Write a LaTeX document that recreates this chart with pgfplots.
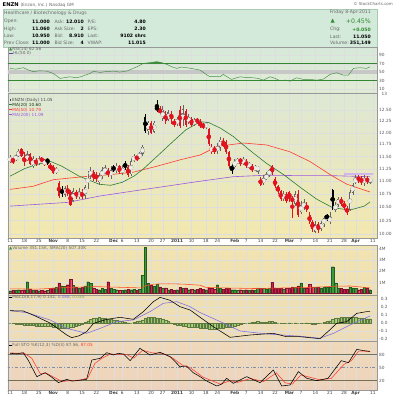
\documentclass[border=0pt]{standalone}
\usepackage{pgfplots}
\pgfplotsset{compat=1.18}
\usepackage{pgfplotstable}
\usepackage{fontspec}
\setmainfont{DejaVu Sans}
\newcommand\fs[1]{\fontsize{#1}{#1}\selectfont}
\definecolor{cred}{HTML}{E0141E}
\definecolor{ma20}{HTML}{2E7D32}
\definecolor{ma50}{HTML}{FF3B30}
\definecolor{ma200}{HTML}{9B59E0}
\definecolor{vgreen}{HTML}{3A9A3A}
\definecolor{vred}{HTML}{D21E4E}
\definecolor{histg}{HTML}{9CCB6E}
\definecolor{sigc}{HTML}{7E6BE0}
\definecolor{rsig}{HTML}{3E8E3E}
\definecolor{hdr}{HTML}{D3E9DA}
\definecolor{hdrb}{HTML}{A8CBB2}
\definecolor{lbl}{HTML}{666666}
\definecolor{upg}{HTML}{2E8B2E}
\definecolor{bg1}{HTML}{D6E9D8}
\definecolor{bg2}{HTML}{E2ECD6}
\definecolor{bg3}{HTML}{DDE8D4}
\definecolor{bg4}{HTML}{F3E8AE}
\definecolor{bg5}{HTML}{F2E4B0}
\definecolor{bg6}{HTML}{EFE0B4}
\definecolor{bg7}{HTML}{EEDCB6}
\definecolor{bg8}{HTML}{EFD9BA}
\definecolor{bg9}{HTML}{EDD3BD}
\definecolor{hollowin}{HTML}{EDEDE6}

\pgfplotstableread{
i o h l c t v m
0 11.40 11.52 11.36 11.48 0 0.25 0.000
1 11.45 11.47 11.35 11.40 1 0.30 -0.005
2 11.42 11.56 11.40 11.52 0 0.30 -0.010
3 11.50 11.66 11.48 11.62 0 0.35 -0.010
4 11.66 11.68 11.48 11.50 1 0.30 -0.015
5 11.45 11.60 11.30 11.40 1 0.35 -0.020
6 11.42 11.62 11.40 11.53 0 1.07 -0.025
7 11.55 11.58 11.33 11.35 1 0.40 -0.030
8 11.30 11.50 11.26 11.45 0 0.30 -0.030
9 11.42 11.47 11.30 11.36 1 0.30 -0.035
10 11.37 11.50 11.33 11.44 0 0.25 -0.035
11 11.45 11.48 11.38 11.42 1 0.30 -0.035
12 11.35 11.45 11.30 11.40 3 0.25 -0.040
13 11.43 11.45 11.33 11.40 2 0.30 -0.040
14 11.33 11.36 11.22 11.25 1 0.45 -0.040
15 11.30 11.33 11.15 11.17 1 0.50 -0.045
16 11.18 11.28 11.15 11.24 0 0.55 -0.050
17 10.97 11.00 10.68 10.72 1 0.95 -0.060
18 10.82 10.90 10.70 10.78 2 0.70 -0.065
19 10.74 10.90 10.70 10.86 0 0.65 -0.065
20 10.85 10.92 10.72 10.76 1 0.80 -0.060
21 10.78 10.82 10.52 10.55 1 1.28 -0.055
22 10.62 10.86 10.60 10.80 0 0.75 -0.045
23 10.78 10.82 10.65 10.72 1 0.60 -0.035
24 10.70 10.86 10.66 10.78 0 0.50 -0.020
25 10.78 10.84 10.66 10.70 1 0.55 -0.010
26 10.72 10.92 10.65 10.88 0 0.70 0.010
27 10.88 11.20 10.84 11.15 0 1.07 0.030
28 11.12 11.28 11.05 11.20 0 0.90 0.050
29 11.18 11.22 11.00 11.05 1 0.50 0.060
30 11.13 11.18 10.98 11.05 1 0.40 0.065
31 10.98 11.17 10.93 11.12 0 0.35 0.070
32 11.10 11.28 11.05 11.22 0 0.45 0.065
33 11.18 11.32 11.15 11.25 0 0.40 0.060
34 11.22 11.26 11.08 11.12 1 1.07 0.055
35 11.10 11.30 11.05 11.22 0 0.45 0.050
36 11.28 11.33 11.18 11.23 2 0.40 0.040
37 11.22 11.36 11.16 11.30 0 0.35 0.035
38 11.30 11.33 11.15 11.18 1 0.30 0.030
39 11.18 11.32 11.12 11.25 0 0.30 0.020
40 11.36 11.40 11.22 11.28 2 0.35 0.010
41 11.28 11.32 11.08 11.12 1 0.40 0.005
42 11.14 11.46 11.10 11.40 0 0.35 0.000
43 11.42 11.55 11.38 11.50 0 0.40 0.010
44 11.50 11.53 11.40 11.45 1 0.30 0.020
45 11.47 11.60 11.44 11.56 0 0.40 0.030
46 11.55 11.73 11.50 11.70 0 1.67 0.040
47 12.35 12.40 12.00 12.03 2 4.20 0.060
48 12.03 12.26 11.95 12.22 0 0.90 0.070
49 12.22 12.25 11.97 12.00 1 0.75 0.075
50 12.02 12.26 11.99 12.22 0 0.70 0.070
51 12.57 12.72 12.45 12.50 2 0.85 0.065
52 12.53 12.60 12.38 12.43 1 0.60 0.060
53 12.30 12.60 12.25 12.50 0 0.45 0.050
54 12.42 12.48 12.20 12.25 1 0.50 0.035
55 12.28 12.50 12.25 12.45 0 0.35 0.020
56 12.40 12.48 12.20 12.33 1 0.40 0.005
57 12.25 12.30 12.12 12.18 1 0.30 -0.010
58 12.20 12.35 12.15 12.28 0 0.35 -0.020
59 12.50 12.58 12.10 12.14 1 0.55 -0.030
60 12.18 12.62 12.15 12.52 0 0.45 -0.035
61 12.48 12.52 12.12 12.17 1 0.50 -0.040
62 12.24 12.40 12.20 12.33 0 0.35 -0.045
63 12.30 12.35 12.12 12.17 1 0.40 -0.050
64 12.18 12.32 12.15 12.28 0 0.35 -0.050
65 12.28 12.32 12.20 12.24 1 0.40 -0.055
66 12.22 12.30 12.10 12.15 1 0.45 -0.060
67 12.18 12.22 12.08 12.12 1 0.40 -0.065
68 12.12 12.24 12.08 12.20 0 0.35 -0.065
69 12.08 12.10 11.72 11.75 1 0.50 -0.070
70 11.60 11.75 11.55 11.70 3 0.45 -0.070
71 11.68 11.72 11.55 11.60 1 0.40 -0.070
72 11.62 11.78 11.55 11.70 0 0.80 -0.065
73 11.68 11.90 11.62 11.85 0 0.45 -0.065
74 11.80 11.88 11.70 11.72 1 0.40 -0.060
75 11.80 11.84 11.55 11.60 1 0.45 -0.055
76 11.60 11.62 11.27 11.30 1 0.45 -0.050
77 11.28 11.35 11.15 11.25 2 0.35 -0.045
78 11.28 11.45 11.25 11.42 0 0.35 -0.035
79 11.38 11.47 11.35 11.42 0 0.30 -0.025
80 11.43 11.47 11.30 11.40 1 0.35 -0.015
81 11.36 11.49 11.33 11.44 0 0.30 -0.005
82 11.40 11.45 11.27 11.30 1 0.35 0.000
83 11.30 11.38 11.24 11.34 0 0.30 0.005
84 11.30 11.34 11.18 11.22 1 0.35 0.010
85 11.24 11.32 11.20 11.28 0 0.30 0.015
86 11.24 11.30 11.15 11.27 0 0.50 0.020
87 11.05 11.08 10.90 10.93 1 0.45 0.015
88 10.96 11.12 10.93 11.06 0 0.45 0.010
89 11.05 11.18 11.02 11.12 0 0.40 0.015
90 11.12 11.25 11.08 11.22 0 0.45 0.020
91 11.30 11.32 11.12 11.18 1 1.00 0.020
92 11.05 11.08 10.86 10.90 1 0.50 0.010
93 10.90 10.92 10.76 10.80 1 0.45 0.000
94 10.80 10.82 10.62 10.66 1 0.45 -0.005
95 10.66 10.80 10.62 10.75 0 0.40 -0.005
96 10.75 10.78 10.58 10.62 1 0.45 0.000
97 10.78 10.80 10.60 10.68 1 0.50 0.005
98 10.68 10.72 10.30 10.60 1 0.60 0.000
99 10.56 10.80 10.52 10.75 0 0.55 0.005
100 10.76 10.82 10.32 10.35 1 0.70 0.000
101 10.40 10.62 10.38 10.55 0 0.95 -0.005
102 10.50 10.65 10.45 10.58 0 0.50 0.000
103 10.55 10.60 10.40 10.45 1 0.45 0.005
104 10.35 10.40 10.18 10.22 1 0.85 -0.005
105 10.22 10.26 10.05 10.10 1 0.60 -0.010
106 10.05 10.24 10.02 10.18 0 0.55 -0.010
107 10.18 10.22 10.02 10.08 1 0.60 -0.005
108 10.10 10.24 10.06 10.20 0 0.50 0.000
109 10.18 10.34 10.14 10.30 0 0.55 0.010
110 10.34 10.38 10.25 10.30 2 0.60 0.020
111 10.22 10.40 10.18 10.32 0 0.60 0.030
112 10.82 10.84 10.45 10.48 2 2.43 0.050
113 10.45 10.60 10.40 10.55 0 0.95 0.060
114 10.55 10.70 10.50 10.65 0 0.50 0.065
115 10.66 10.70 10.52 10.56 1 0.45 0.070
116 10.58 10.62 10.45 10.48 1 0.40 0.075
117 10.48 10.52 10.36 10.40 1 0.40 0.075
118 10.45 10.82 10.42 10.78 0 0.55 0.075
119 10.78 10.96 10.74 10.92 0 0.50 0.070
120 10.98 11.12 10.95 11.06 0 0.45 0.070
121 11.08 11.12 10.96 11.02 1 0.35 0.065
122 11.06 11.10 10.92 10.98 1 0.40 0.060
123 10.98 11.12 10.90 11.04 0 0.55 0.060
124 11.05 11.10 10.95 11.00 1 0.45 0.055
125 11.00 11.06 10.95 11.05 0 0.35 0.054
}\candles

\pgfplotsset{
 panel/.style={
  scale only axis, width=369pt, anchor=north west,
  xmin=-0.7, xmax=127.4,
  axis line style={draw=black!40, line width=0.35pt},
  xtick={0,5,10,15,20,25,30,36,39,44,49,53,58,63,68,72,78,82,87,92,97,101,106,111,116,120,126},
  xticklabels={},
  xmajorgrids, ymajorgrids,
  major grid style={draw=black!13, line width=0.3pt},
  tick style={draw=none},
  yticklabel pos=right,
  /pgf/number format/assume math mode=true,
  yticklabel style={font=\fs{4.3}, text=black!65, anchor=west, xshift=1.5pt, inner sep=0.5pt},
  xticklabel style={font=\fs{4.3}, text=black!75, inner sep=0.8pt},
 },
 xlabs/.style={xticklabels={11,18,25,\textbf{Nov},8,15,22,\textbf{Dec},6,13,20,27,\textbf{2011},10,18,24,\textbf{Feb},7,14,22,\textbf{Mar},7,14,21,28,\textbf{Apr},11}},
 ebar/.style 2 args={only marks, mark=none, color=#1, error bars/y dir=both, error bars/y explicit, error bars/error mark=none, error bars/error bar style={line width=#2, draw=#1}},
}
% wick / body of candles of type #1 (others sent above the axis, where they are clipped)
\newcommand\wick[2]{\addplot[ebar={#2}{0.45pt}] table[x=i, y expr={\thisrow{t}==#1 ? (\thisrow{h}+\thisrow{l})/2 : 40}, y error expr={(\thisrow{h}-\thisrow{l})/2}] {\candles};}
\newcommand\body[2]{\addplot[ebar={#2}{2.1pt}] table[x=i, y expr={\thisrow{t}==#1 ? (\thisrow{o}+\thisrow{c})/2 : 40}, y error expr={max(abs(\thisrow{c}-\thisrow{o})/2,0.006)}] {\candles};}
\newcommand\inner[1]{\addplot[ebar={hollowin}{0.75pt}] table[x=i, y expr={\thisrow{t}==#1 ? (\thisrow{o}+\thisrow{c})/2 : 40}, y error expr={max(abs(\thisrow{c}-\thisrow{o})/2-0.012,0)}] {\candles};}

\begin{document}
\begin{tikzpicture}
\path[use as bounding box, fill=white] (0pt,0pt) rectangle (400pt,-400pt);
% ---------- header ----------
\node[anchor=west, inner sep=0] at (2.5pt,-4.6pt) {\fs{5.2}\bfseries ENZN\ {\mdseries\fs{4.3}\color{lbl}(Enzon, Inc.) Nasdaq GM}};
\node[anchor=east, inner sep=0, text=lbl] at (393pt,-4.2pt) {\fs{4}© StockCharts.com};
\fill[hdr] (3pt,-9pt) rectangle (377pt,-47pt);
\draw[hdrb, line width=0.4pt] (3pt,-9pt) rectangle (377pt,-47pt);
\begin{scope}[every node/.style={inner sep=0, font=\fs{4.6}}]
\node[anchor=west, text=lbl] at (4pt,-13.4pt) {Healthcare / Biotechnology \& Drugs};
\node[anchor=west, text=lbl] at (4pt,-21.7pt) {Open:};
\node[anchor=west, text=lbl] at (4pt,-29pt) {High:};
\node[anchor=west, text=lbl] at (4pt,-36pt) {Low:};
\node[anchor=west, text=lbl] at (4pt,-42.8pt) {Prev Close:};
\node[anchor=east] at (50pt,-21.7pt) {\bfseries 11.000};
\node[anchor=east] at (50pt,-29pt) {\bfseries 11.060};
\node[anchor=east] at (50pt,-36pt) {\bfseries 10.950};
\node[anchor=east] at (50pt,-42.8pt) {\bfseries 11.000};
\node[anchor=west, text=lbl] at (54.3pt,-21.7pt) {Ask:};
\node[anchor=west, text=lbl] at (54.3pt,-29pt) {Ask Size:};
\node[anchor=west, text=lbl] at (54.3pt,-36pt) {Bid:};
\node[anchor=west, text=lbl] at (54.3pt,-42.8pt) {Bid Size:};
\node[anchor=east] at (84pt,-21.7pt) {\bfseries 12.010};
\node[anchor=east] at (84pt,-29pt) {\bfseries 2};
\node[anchor=east] at (84pt,-36pt) {\bfseries 8.910};
\node[anchor=east] at (84pt,-42.8pt) {\bfseries 4};
\node[anchor=west, text=lbl] at (87.5pt,-21.7pt) {P/E:};
\node[anchor=west, text=lbl] at (87.5pt,-29pt) {EPS:};
\node[anchor=west, text=lbl] at (87.5pt,-36pt) {Last:};
\node[anchor=west, text=lbl] at (87.5pt,-42.8pt) {VWAP:};
\node[anchor=east] at (146pt,-21.7pt) {\bfseries 4.80};
\node[anchor=east] at (146pt,-29pt) {\bfseries 2.30};
\node[anchor=east] at (146pt,-36pt) {\bfseries 9102 shrs};
\node[anchor=east] at (146pt,-42.8pt) {\bfseries 11.015};
\node[anchor=east, text=lbl] at (371pt,-12.2pt) {Friday 8-Apr-2011};
\node[anchor=west, text=upg] at (330.5pt,-21pt) {\fs{5.5}▲};
\node[anchor=east, text=upg] at (371pt,-21pt) {\fs{6.2}+0.45\%};
\node[anchor=west, text=lbl] at (330pt,-29.5pt) {Chg:};
\node[anchor=east, text=upg] at (371pt,-29.5pt) {\bfseries +0.050};
\node[anchor=west, text=lbl] at (330pt,-36.5pt) {Last:};
\node[anchor=east] at (371pt,-36.5pt) {\bfseries 11.050};
\node[anchor=west, text=lbl] at (330pt,-43.2pt) {Volume:};
\node[anchor=east] at (371pt,-43.2pt) {\bfseries 351,149};
\end{scope}

% ---------- RSI ----------
\begin{axis}[panel, at={(8pt,-47pt)}, height=46pt, ymin=0, ymax=110,
  ytick={10,30,50,70,90},
  axis background/.style={top color=bg1, bottom color=bg2}]
\addplot[draw=black!22, line width=3.5pt] coordinates {(-1,50) (128,50)};
\addplot[draw=black!45!green!60!gray, line width=0.5pt] coordinates {(-1,70) (128,70)};
\addplot[draw=black!45!green!60!gray, line width=0.5pt] coordinates {(-1,30) (128,30)};
\addplot[fill=rsig, draw=none] coordinates {(45.3,70) (46.3,70.9) (48,72) (50.9,74.9) (52.5,73) (53.4,70)} --cycle;
\addplot[fill=rsig, draw=none] coordinates {(93.3,30) (93.8,29.2) (94.6,30)} --cycle;
\addplot[fill=rsig, draw=none] coordinates {(96.5,30) (97.2,28.4) (98.6,30)} --cycle;
\addplot[rsig, line width=0.45pt] coordinates {(0,58.9) (2,57) (4.6,60.5) (6,56) (8.1,50.8) (10,53) (12.7,52.4) (15,46.8) (17.4,34.8) (19,37) (20.8,38.8) (23.1,36.4) (25,40) (27.8,46.8) (29,52) (31.3,49.2) (33,51) (35.9,52.4) (38,50) (40.5,52.4) (42.8,58.9) (44.5,64) (46.3,70.9) (48,72) (50.9,74.9) (52.5,73) (54.4,68.5) (56,63) (57.9,58.9) (59.5,62) (61.3,60.5) (63.5,58) (66,54.8) (68,45) (69.4,38.8) (71,40) (72.9,38.8) (74,44.4) (76.9,32.4) (78.5,36) (79.9,38.8) (82,37) (84.5,36.4) (86,35) (88,30.8) (90.3,38.8) (92,35) (93.8,29.2) (95.5,31) (97.2,28.4) (99.5,36.4) (101.8,32.4) (104.2,32.4) (106.5,30.8) (108.8,33.2) (111.1,44.4) (113.4,48.4) (115.7,42.8) (117.5,42.8) (119.2,58.9) (121.5,60.5) (123.8,58.9) (125,62.6)};
\end{axis}
\node[anchor=west, inner sep=0, text=lbl, font=\fs{4.2}] at (9pt,-49pt) {{\color{rsig}▲}RSI(14) 62.56};
\draw[black!30!blue!40!gray, line width=0.8pt] (9pt,-53.3pt) -- (12.5pt,-53.3pt);
\node[anchor=west, inner sep=0, text=lbl, font=\fs{4.2}] at (12.8pt,-53.3pt) {HL(50.0)};

% ---------- Price ----------
\begin{axis}[panel, at={(8pt,-93pt)}, height=145pt, ymode=log, ymin=9.935, ymax=12.887,
  ytick={10,10.25,10.5,10.75,11,11.25,11.5,11.75,12,12.25,12.5},
  yticklabels={10.00,10.25,10.50,10.75,11.00,11.25,11.50,11.75,12.00,12.25,12.50},
  xlabs,
  axis background/.style={top color=bg3, bottom color=bg4}]
\addplot[ma200!45, line width=1.6pt] coordinates {(116,11.14) (126,11.14)};
\addplot[ma200, line width=0.6pt] coordinates {(0,10.52) (20,10.59) (31,10.71) (43,10.81) (54,10.90) (66,11.00) (77.5,11.09) (89,11.12) (101,11.11) (112,11.11) (125,11.09)};
\addplot[ma50, line width=0.6pt] coordinates {(0,10.84) (8,10.90) (15,11.03) (25.5,11.09) (34.7,11.13) (42.8,11.18) (51,11.30) (59,11.43) (66,11.53) (72,11.71) (81,11.78) (89,11.74) (97,11.60) (104,11.40) (112,11.10) (117,10.94) (125,10.79)};
\addplot[ma20, line width=0.6pt] coordinates {(0,11.10) (5,11.25) (9,11.33) (14,11.40) (18,11.30) (24,11.10) (31,10.94) (35,10.92) (39,10.98) (43,11.10) (46,11.23) (51,11.50) (56,11.78) (61,12.06) (66,12.24) (69,12.22) (73,12.10) (77.5,11.92) (83,11.64) (89,11.36) (95,11.13) (101,10.87) (106.5,10.65) (112,10.49) (116,10.46) (119,10.46) (123,10.52) (125,10.60)};
\wick{0}{black!60}
\wick{2}{black}
\wick{1}{cred}
\wick{3}{cred}
\body{0}{black!60}
\inner{0}
\body{3}{cred}
\inner{3}
\body{1}{cred}
\body{2}{black}
\end{axis}
\node[anchor=west, inner sep=0, text=black!65, font=\fs{4.3}] at (381.5pt,-93.5pt) {13};
\begin{scope}[every node/.style={anchor=west, inner sep=0, font=\fs{4.2}}]
\fill[black!70] (9.5pt,-98.6pt) rectangle (11.3pt,-101.2pt);
\node[text=black!70] at (12pt,-100pt) {ENZN (Daily) 11.05};
\draw[ma20, line width=0.7pt] (9pt,-104.8pt) -- (12pt,-104.8pt);
\node[text=black!60!ma20] at (12.3pt,-104.8pt) {MA(20) 10.60};
\draw[ma50, line width=0.7pt] (9pt,-109.8pt) -- (12pt,-109.8pt);
\node[text=ma50] at (12.3pt,-109.8pt) {MA(50) 10.79};
\draw[ma200, line width=0.7pt] (9pt,-114.8pt) -- (12pt,-114.8pt);
\node[text=ma200] at (12.3pt,-114.8pt) {MA(200) 11.09};
\end{scope}

% ---------- Volume ----------
\begin{axis}[panel, at={(8pt,-245pt)}, height=50pt, ymin=-0.136, ymax=4.385,
  ytick={1,2,3,4}, yticklabels={1M,2M,3M,4M},
  axis background/.style={top color=bg5, bottom color=bg6}]
\addplot[ybar, bar width=0.8, bar shift=0pt, fill=vgreen, draw=vgreen!60!black, line width=0.2pt] table[x=i, y expr={mod(\thisrow{t},2)==0 ? \thisrow{v} : 0}] {\candles};
\addplot[ybar, bar width=0.8, bar shift=0pt, fill=vred, draw=vred!60!black, line width=0.2pt] table[x=i, y expr={mod(\thisrow{t},2)==1 ? \thisrow{v} : 0}] {\candles};
\addplot[draw=ma50!80!orange, line width=0.55pt] coordinates {(0,0.42) (10,0.40) (20,0.55) (30,0.62) (40,0.55) (46,0.50) (47,0.70) (50,0.85) (55,0.88) (60,0.85) (66,0.75) (68,0.55) (75,0.50) (85,0.45) (95,0.50) (105,0.55) (112,0.65) (118,0.68) (125,0.507)};
\end{axis}
\node[anchor=west, inner sep=0, text=lbl, font=\fs{4.2}] at (9pt,-248.3pt) {{\color{vgreen}▲}Volume 351.15K, SMA(20) 507.30K};

% ---------- MACD ----------
\begin{axis}[panel, at={(8pt,-295pt)}, height=46pt, ymin=-0.225, ymax=0.35,
  ytick={-0.2,-0.1,0,0.1,0.2,0.3}, yticklabels={-0.2,-0.1,\phantom{-}0.0,\phantom{-}0.1,\phantom{-}0.2,\phantom{-}0.3},
  axis background/.style={top color=bg6, bottom color=bg7}]
\addplot[ybar, bar width=0.8, bar shift=0pt, fill=histg, draw=histg!60!black, line width=0.2pt] table[x=i, y=m] {\candles};
\addplot[sigc, line width=0.55pt] coordinates {(0,0.154) (5.8,0.13) (13.9,0.038) (19.7,-0.067) (26.6,-0.129) (31.3,-0.067) (37,0.017) (42.8,0.038) (48.6,0.142) (53.2,0.246) (57.9,0.267) (62.5,0.204) (66,0.13) (73,0.017) (79.9,-0.1) (89,-0.137) (100.7,-0.165) (107.6,-0.19) (112.3,-0.129) (118,-0.025) (125,0.088)};
\addplot[black, line width=0.55pt] coordinates {(0,0.154) (4.6,0.150) (8,0.10) (13.9,0.0) (17,-0.08) (19.7,-0.150) (21.4,-0.183) (24,-0.16) (26.6,-0.108) (29,-0.004) (33.6,0.046) (38.2,0.071) (42.8,0.046) (46.3,0.142) (49.8,0.267) (52.1,0.321) (55.6,0.283) (59,0.204) (62.5,0.163) (66,0.071) (70.6,-0.046) (76.4,-0.179) (83.3,-0.15) (91.4,-0.129) (96,-0.171) (100.7,-0.171) (107.6,-0.196) (111,-0.087) (113.4,-0.004) (116.9,0.017) (120.4,0.121) (123.8,0.142) (125,0.142)};
\end{axis}
\draw[black, line width=0.7pt] (9pt,-297.5pt) -- (12pt,-297.5pt);
\node[anchor=west, inner sep=0, text=lbl, font=\fs{4.2}] at (12.3pt,-297.5pt) {MACD(8,17,9) 0.142, {\color{sigc}0.088}, {\color{histg!80!black}0.054}};

% ---------- Full STO ----------
\begin{axis}[panel, at={(8pt,-341pt)}, height=49pt, ymin=-1.6, ymax=111.5,
  ytick={20,50,80}, xlabs,
  axis background/.style={top color=bg8, bottom color=bg9}]
\addplot[draw=black!50!olive!50!gray, line width=0.5pt] coordinates {(-1,80) (128,80)};
\addplot[draw=black!50!olive!50!gray, line width=0.5pt] coordinates {(-1,20) (128,20)};
\addplot[draw=black!45, line width=0.45pt, dash dot] coordinates {(-1,50) (128,50)};
\addplot[ma50, line width=0.55pt] coordinates {(0,84) (5,83) (7.5,72) (10.5,36) (13,36) (18,18) (21,20) (24,21) (27,26) (29.5,60) (32,72) (35,82) (37,80) (40.5,80) (43,72) (46,90) (49.5,84) (53,83) (56.5,72) (60,55) (62.5,50) (65,38) (67,28) (73,12) (76.5,20) (79,16) (83.5,25) (88,18) (92.5,38) (95.5,15) (98,12) (101,33) (104,28) (107.5,22) (111.5,25) (116,58) (118.5,66) (121,88) (123,88) (125,87.05)};
\addplot[black, line width=0.55pt] coordinates {(0,83) (2.5,82) (4.6,84.6) (6.3,67.6) (9.3,29.2) (12.2,38.4) (14.5,28) (16.8,15.4) (19.7,23.1) (21.5,19) (23.1,20) (26.6,23.1) (28.4,67.6) (31.3,71.5) (33.6,84.6) (35.9,79.2) (37.5,83) (39.4,81.5) (41.7,66.1) (45.1,94.6) (48.6,79.2) (52.1,85.4) (55.6,75.4) (59,52.3) (61.3,53.8) (63.6,38.4) (66,29.2) (68,20) (71.8,7.7) (73.5,12) (75.2,25.4) (77.5,13.8) (82.2,29.2) (84.5,22) (86.8,15.4) (91.4,44.6) (94.3,7.7) (97.2,10) (100.1,40.8) (103,25.4) (106.5,20) (110.4,25.4) (115,66.1) (117.5,61.5) (120.4,92.3) (122.7,89.3) (125,87.56)};
\end{axis}
\draw[black, line width=0.7pt] (9pt,-345pt) -- (12pt,-345pt);
\node[anchor=west, inner sep=0, text=lbl, font=\fs{4.2}] at (12.3pt,-345pt) {Full STO \%K(12,3) \%D(3) 87.56, {\color{ma50}87.05}};
\end{tikzpicture}
\end{document}
